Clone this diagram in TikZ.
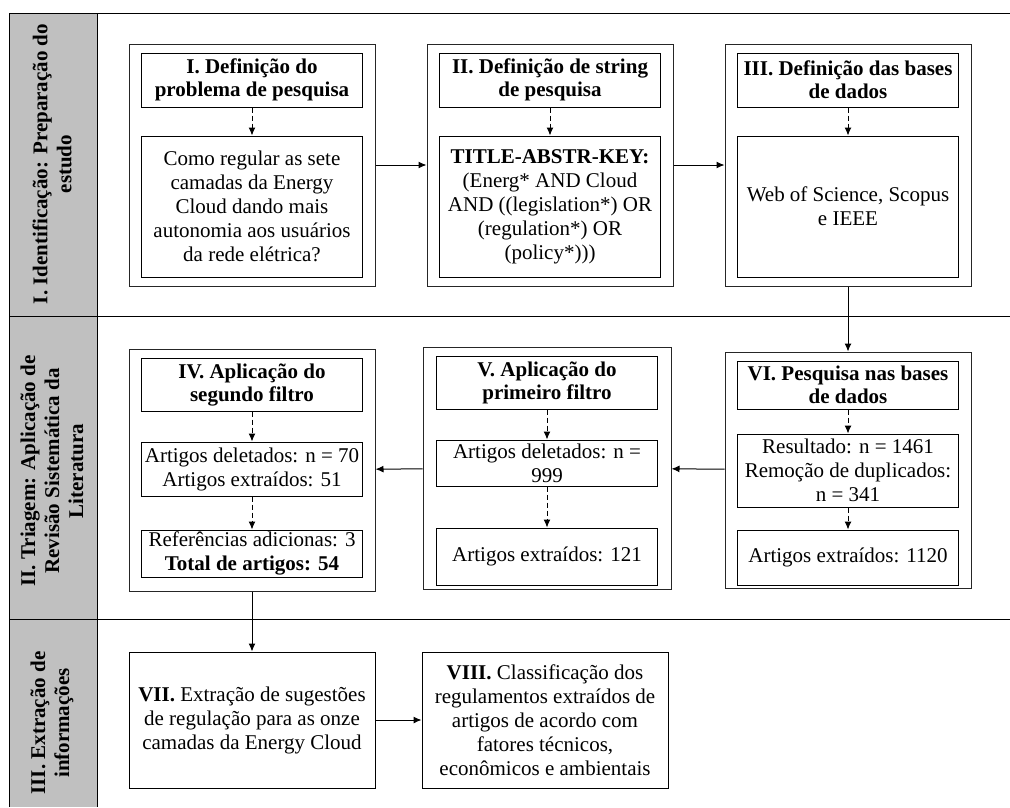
\documentclass[tikz,border=0pt]{standalone}
\usepackage{fontspec}
\setmainfont{Liberation Serif}
\usepackage{tikz}
\usetikzlibrary{arrows.meta}

\definecolor{bandgray}{RGB}{192,192,192}

\begin{document}
\begin{tikzpicture}[x=1pt, y=-1pt, >={Latex[length=8pt,width=7pt]}, line width=1pt]
    % Styles
    \tikzstyle{outerbox} = [rectangle, draw=black!85, minimum width=246pt, minimum height=242pt]
    \tikzstyle{titlebox} = [rectangle, draw, inner sep=1pt, minimum width=221pt, align=center, font=\fontsize{21}{23}\selectfont\bfseries]
    \tikzstyle{bodybox} = [rectangle, draw, inner sep=1pt, minimum width=221pt, align=center, font=\fontsize{21}{24}\selectfont]
    \tikzstyle{stagelabel} = [rotate=90, align=center, font=\fontsize{21}{24}\selectfont\bfseries]
    \tikzstyle{dasharrow} = [->, dash pattern=on 5pt off 3pt]

    \useasboundingbox (0,0) rectangle (1010,807);

    % Stage column and rows
    \fill[bandgray] (9,13) rectangle (97,807);
    \draw (9,13) -- (9,807);
    \draw (97,13) -- (97,807);
    \draw (9,13) -- (1010,13);
    \draw (9,316) -- (1010,316);
    \draw (9,619) -- (1010,619);

    \node[stagelabel] (Stage1) at (52,164) {I. Identificação: Preparação do\\estudo};
    \node[stagelabel] (Stage2) at (52,471) {II. Triagem: Aplicação de\\Revisão Sistemática da\\Literatura};
    \node[stagelabel] (Stage3) at (52,723) {III. Extração de\\informações};

    % Row 1
    \node[outerbox] (Out1) at (252,165) {};
    \node[titlebox, minimum height=54pt] (Tit1) at (252,80) {I. Definição do\\problema de pesquisa};
    \node[bodybox, minimum height=141pt] (Box1) at (252,206.5) {Como regular as sete\\camadas da Energy\\Cloud dando mais\\autonomia aos usuários\\da rede elétrica?};

    \node[outerbox] (Out2) at (550,165) {};
    \node[titlebox, minimum height=54pt] (Tit2) at (550,80) {II. Definição de string\\de pesquisa};
    \node[bodybox, minimum height=141pt] (Box2) at (550,206.5) {\textbf{TITLE-ABSTR-KEY:}\\(Energ* AND Cloud\\AND ((legislation*) OR\\(regulation*) OR\\(policy*)))};

    \node[outerbox] (Out3) at (848,165) {};
    \node[titlebox, minimum height=54pt] (Tit3) at (848,80) {III. Definição das bases\\de dados};
    \node[bodybox, minimum height=141pt] (Box3) at (848,206.5) {Web of Science, Scopus\\e IEEE};

    % Row 2
    \node[outerbox] (Out4) at (252,470) {};
    \node[titlebox, minimum height=53pt] (Tit4) at (252,384.5) {IV. Aplicação do\\segundo filtro};
    \node[bodybox, minimum height=54pt] (Mid4) at (252,469) {Artigos deletados: n = 70\\Artigos extraídos: 51};
    \node[bodybox, minimum height=47pt] (Box4) at (252,553.5) {Referências adicionas: 3\\\textbf{Total de artigos: 54}};

    \node[outerbox, minimum width=248pt] (Out5) at (547,468) {};
    \node[titlebox, minimum height=53pt] (Tit5) at (547,382.5) {V. Aplicação do\\primeiro filtro};
    \node[bodybox, minimum height=46pt] (Mid5) at (547,463) {Artigos deletados: n =\\999};
    \node[bodybox, minimum height=57pt] (Box5) at (547,556.5) {Artigos extraídos: 121};

    \node[outerbox, minimum height=236pt] (Out6) at (848,470) {};
    \node[titlebox, minimum height=48pt] (Tit6) at (848,385) {VI. Pesquisa nas bases\\de dados};
    \node[bodybox, minimum height=73pt] (Mid6) at (848,470.5) {Resultado: n = 1461\\Remoção de duplicados:\\n = 341};
    \node[bodybox, minimum height=55pt] (Box6) at (848,557.5) {Artigos extraídos: 1120};

    % Row 3
    \node[bodybox, minimum width=246pt, minimum height=136pt] (Box7) at (252,720) {\textbf{VII.} Extração de sugestões\\de regulação para as onze\\camadas da Energy Cloud};
    \node[bodybox, minimum width=246pt, minimum height=136pt] (Box8) at (545,720) {\textbf{VIII.} Classificação dos\\regulamentos extraídos de\\artigos de acordo com\\fatores técnicos,\\econômicos e ambientais};

    % Inner arrows
    \draw[dasharrow] (Tit1) -- (Box1);
    \draw[dasharrow] (Tit2) -- (Box2);
    \draw[dasharrow] (Tit3) -- (Box3);
    \draw[dasharrow] (Tit4) -- (Mid4);
    \draw[dasharrow] (Mid4) -- (Box4);
    \draw[dasharrow] (Tit5) -- (Mid5);
    \draw[dasharrow] (Mid5) -- (Box5);
    \draw[dasharrow] (Tit6) -- (Mid6);
    \draw[dasharrow] (Mid6) -- (Box6);

    % Flow between steps
    \draw[->] (Out1) -- (Out2);
    \draw[->] (Out2) -- (Out3);
    \draw[->] (Out3) -- (Out6);
    \draw[->] (Out6) -- (Out5);
    \draw[->] (Out5) -- (Out4);
    \draw[->] (Out4) -- (Box7);
    \draw[->] (Box7) -- (Box8);

\end{tikzpicture}
\end{document}
